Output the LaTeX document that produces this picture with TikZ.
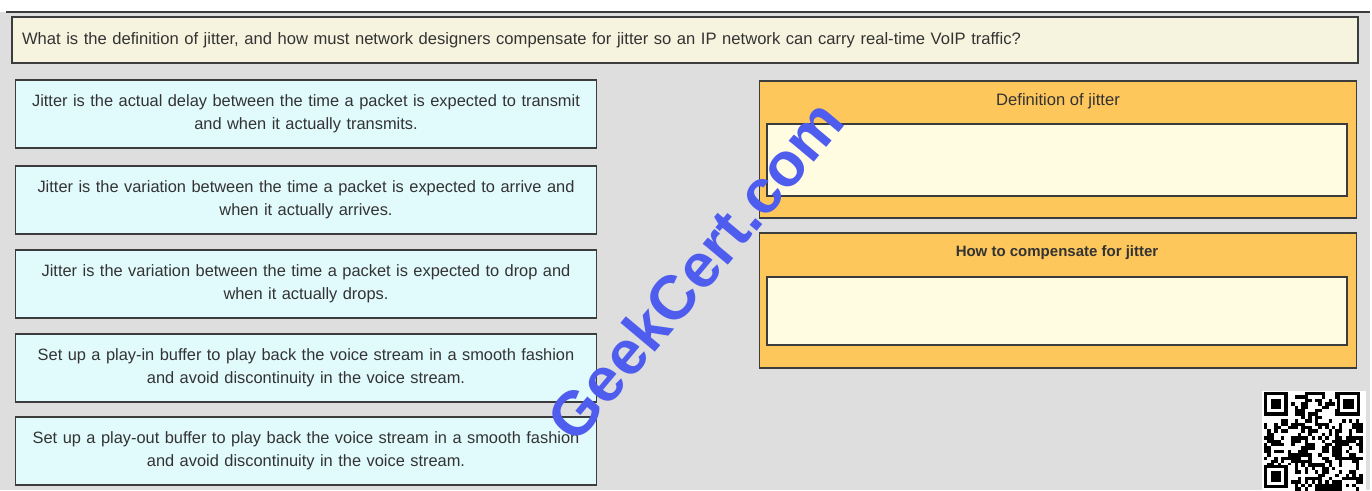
\documentclass[tikz,border=0pt]{standalone}
\usepackage{fontspec}
\setmainfont{Liberation Sans}
\definecolor{panelgray}{HTML}{DEDEDE}
\definecolor{framegray}{HTML}{3C3C3C}
\definecolor{asktint}{HTML}{F6F4DE}
\definecolor{choicetint}{HTML}{E1FAFC}
\definecolor{targetorange}{HTML}{FDC75C}
\definecolor{droptint}{HTML}{FFFCE2}
\definecolor{inkgray}{HTML}{333333}
\definecolor{markblue}{HTML}{4F5DEE}
\tikzset{
  question/.style={draw=framegray, line width=1.5pt, fill=asktint, minimum width=1346pt, minimum height=46pt, text=inkgray, font=\fontsize{16.6}{20}\selectfont, text width=1326pt, align=left},
  choice/.style={draw=framegray, line width=1.5pt, fill=choicetint, minimum width=580pt, minimum height=68pt, text=inkgray, font=\fontsize{16.4}{23}\selectfont, text width=574pt, align=center},
  target/.style={draw=framegray, line width=1.5pt, fill=targetorange, minimum width=597pt},
  dropzone/.style={draw=framegray, line width=1.5pt, fill=droptint, minimum width=580pt},
  heading/.style={text=inkgray, font=\fontsize{16.6}{20}\selectfont}
}
\newcommand\qrfinder[2]{%
  \fill[white] (#1,#2) rectangle ++(27.2,27.2);
  \fill[black] (#1,#2) rectangle ++(23.8,23.8);
  \fill[white] ({#1+3.4},{#2+3.4}) rectangle ++(17,17);
  \fill[black] ({#1+6.8},{#2+6.8}) rectangle ++(10.2,10.2);}
\begin{document}
\begin{tikzpicture}[x=1pt,y=-1pt]
	\useasboundingbox (0,0) rectangle (1372,490);
	\fill[white] (0,0) rectangle (1372,490);
	\fill[panelgray] (0,12) rectangle (1370,490);
	\draw[framegray, line width=2pt] (6,12) -- (1370,12);
	% question
	\node (ask) at (685,40) [question] {What is the definition of jitter, and how must network designers compensate for jitter so an IP network can carry real-time VoIP traffic?};
	% answer choices
	\node (c1) at (306,114) [choice] {Jitter is the actual delay between the time a packet is expected to transmit\\and when it actually transmits.};
	\node (c2) at (306,200) [choice] {Jitter is the variation between the time a packet is expected to arrive and\\when it actually arrives.};
	\node (c3) at (306,284) [choice] {Jitter is the variation between the time a packet is expected to drop and\\when it actually drops.};
	\node (c4) at (306,368) [choice] {Set up a play-in buffer to play back the voice stream in a smooth fashion\\and avoid discontinuity in the voice stream.};
	\node (c5) at (306,451) [choice] {Set up a play-out buffer to play back the voice stream in a smooth fashion\\and avoid discontinuity in the voice stream.};
	% targets
	\node (defbox) at (1058,149.5) [target, minimum height=137pt] {};
	\node (deftitle) at (1058,101) [heading] {Definition of jitter};
	\node (defdrop) at (1057,160) [dropzone, minimum height=72pt] {};
	\node (fixbox) at (1058,300.5) [target, minimum height=135pt] {};
	\node (fixtitle) at (1057,253) [heading, font=\bfseries\fontsize{15}{18}\selectfont] {How to compensate for jitter};
	\node (fixdrop) at (1057,311) [dropzone, minimum height=68pt] {};
	% watermark
	\node (mark) at (695,270) [rotate=50, text=markblue, font=\bfseries\fontsize{62}{62}\selectfont] {GeekCert.com};
	% qr code
	\fill[white] (1262,391) rectangle (1366,490);
	\pgfmathsetseed{17}
	\foreach \i in {0,...,28}{
		\foreach \j in {0,...,28}{
			\pgfmathsetmacro{\r}{rnd}
			\ifdim\r pt<0.5pt \fill[black] ({1264+3.4*\i},{392+3.4*\j}) rectangle ++(3.4,3.4); \fi
		}
	}
	\qrfinder{1264}{392}
	\qrfinder{1336.6}{392}
	\qrfinder{1264}{464.6}
\end{tikzpicture}
\end{document}
